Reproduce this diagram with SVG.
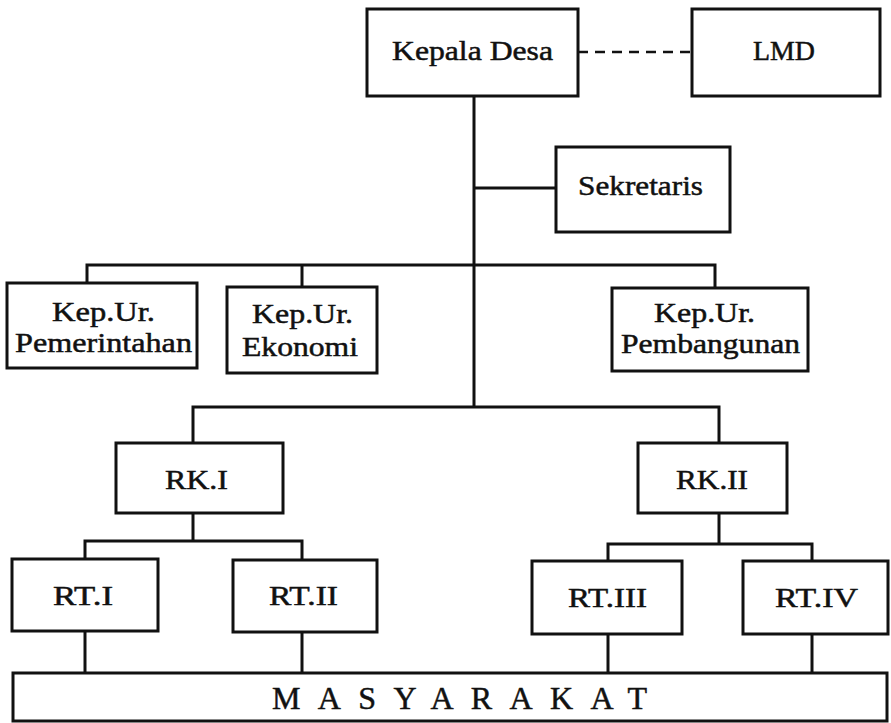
<svg xmlns="http://www.w3.org/2000/svg" width="891" height="723" viewBox="0 0 891 723">
<style>
.box{fill:#fff;stroke:#111;stroke-width:3}
.ln{fill:none;stroke:#111;stroke-width:3}
.dash{fill:none;stroke:#111;stroke-width:2.5;stroke-dasharray:10 7}
text{font-family:"Liberation Serif","Times New Roman",serif;font-size:28px;fill:#111;stroke:#111;stroke-width:0.5}
.big{font-size:32px}
</style>
<rect width="891" height="723" fill="#fff"/>
<g id="connectors">
<path class="dash" d="M578 52 H692"/>
<path class="ln" d="M474 96 V407"/>
<path class="ln" d="M474 188 H556"/>
<path class="ln" d="M87 283 V265 H715 V288"/>
<path class="ln" d="M302 265 V287"/>
<path class="ln" d="M193 443 V407 H719 V443"/>
<path class="ln" d="M193 513 V541"/>
<path class="ln" d="M85 559 V541 H302 V560"/>
<path class="ln" d="M719 513 V544"/>
<path class="ln" d="M608 561 V544 H812 V561"/>
<path class="ln" d="M85 631 V673"/>
<path class="ln" d="M302 632 V673"/>
<path class="ln" d="M608 634 V673"/>
<path class="ln" d="M812 634 V673"/>
</g>
<g id="kepala-desa"><rect class="box" x="367" y="9" width="211" height="87"/><text x="392" y="60" textLength="161" lengthAdjust="spacingAndGlyphs">Kepala Desa</text></g>
<g id="lmd"><rect class="box" x="692" y="9" width="188" height="87"/><text x="753" y="60" textLength="62" lengthAdjust="spacingAndGlyphs">LMD</text></g>
<g id="sekretaris"><rect class="box" x="556" y="147" width="174" height="85"/><text x="578" y="195" textLength="125" lengthAdjust="spacingAndGlyphs">Sekretaris</text></g>
<g id="kepur-pemerintahan"><rect class="box" x="7" y="283" width="190" height="85"/><text x="52" y="321" textLength="103" lengthAdjust="spacingAndGlyphs">Kep.Ur.</text><text x="15" y="352" textLength="177" lengthAdjust="spacingAndGlyphs">Pemerintahan</text></g>
<g id="kepur-ekonomi"><rect class="box" x="227" y="287" width="150" height="86"/><text x="252" y="323" textLength="101" lengthAdjust="spacingAndGlyphs">Kep.Ur.</text><text x="242" y="356" textLength="116" lengthAdjust="spacingAndGlyphs">Ekonomi</text></g>
<g id="kepur-pembangunan"><rect class="box" x="612" y="288" width="196" height="83"/><text x="654" y="322" textLength="101" lengthAdjust="spacingAndGlyphs">Kep.Ur.</text><text x="621" y="353" textLength="179" lengthAdjust="spacingAndGlyphs">Pembangunan</text></g>
<g id="rk1"><rect class="box" x="116" y="443" width="167" height="70"/><text x="165" y="489" textLength="63" lengthAdjust="spacingAndGlyphs">RK.I</text></g>
<g id="rk2"><rect class="box" x="638" y="443" width="149" height="70"/><text x="676" y="489" textLength="72" lengthAdjust="spacingAndGlyphs">RK.II</text></g>
<g id="rt1"><rect class="box" x="12" y="559" width="146" height="72"/><text x="53" y="605" textLength="60" lengthAdjust="spacingAndGlyphs">RT.I</text></g>
<g id="rt2"><rect class="box" x="233" y="560" width="144" height="72"/><text x="269" y="605" textLength="69" lengthAdjust="spacingAndGlyphs">RT.II</text></g>
<g id="rt3"><rect class="box" x="532" y="561" width="150" height="73"/><text x="568" y="607" textLength="79" lengthAdjust="spacingAndGlyphs">RT.III</text></g>
<g id="rt4"><rect class="box" x="743" y="561" width="145" height="73"/><text x="775" y="607" textLength="83" lengthAdjust="spacingAndGlyphs">RT.IV</text></g>
<g id="masyarakat"><rect class="box" x="13" y="673" width="874" height="48"/><text class="big" x="272" y="709" textLength="375" lengthAdjust="spacing">MASYARAKAT</text></g>
</svg>
